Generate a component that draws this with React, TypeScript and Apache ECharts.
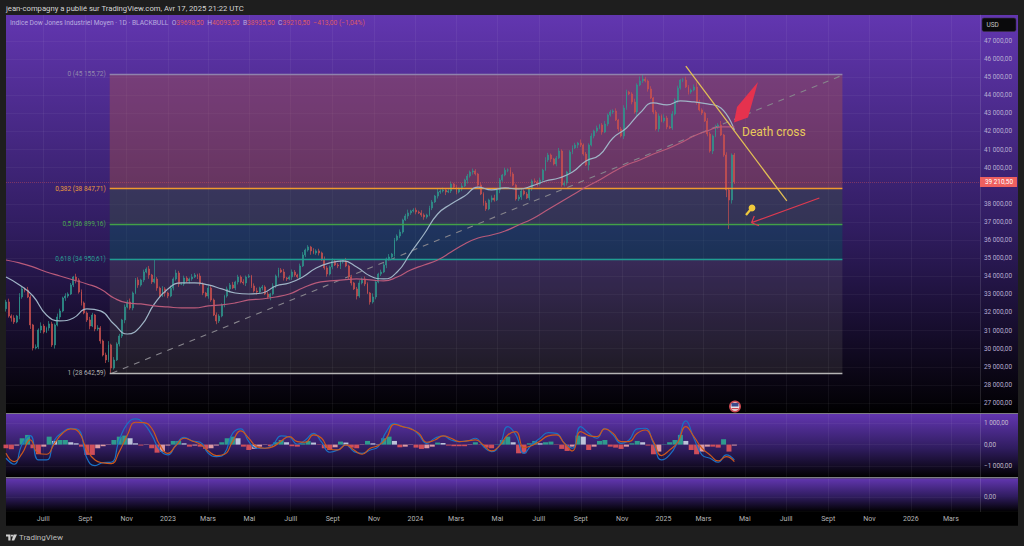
import React, { useEffect, useRef } from "react";
import * as echarts from "echarts";

const DAY = 86400000;
const startTime = Date.UTC(2022, 4, 7);
const endTime = Date.UTC(2026, 3, 13);
const candleStepDays = 3.98;
const firstOpen = 32200;

const closes = [
32580,31805,31695,31475,31805,32855,33300,33240,32855,31310,30040,30095,31030,31250,30920,31145,31365,30205,31310,31750,
32080,32800,32910,33020,33520,33960,33795,33130,32525,31970,31585,31250,31860,31090,31145,30425,29650,29375,30205,28930,
29375,30260,30700,31585,32300,32580,32250,33075,33795,33520,33795,34235,34400,34070,33685,33850,33350,32910,33300,33075,
32910,33350,33850,34180,33575,33575,33905,33740,33850,33960,34070,34015,
33575,33075,32910,33350,32690,31860,31530,31805,32415,32910,33300,33520,33350,33685,33960,33685,33630,33960,34015,33465,
33190,33130,33350,33410,33020,32855,33020,33465,34015,34350,34235,33905,33850,33960,34235,34070,33960,34570,35175,35450,
35620,35400,35290,35400,35290,34900,34460,34125,34515,34845,34625,34570,34790,34845,34570,33960,33630,33300,32910,33630,
33850,33575,33075,32580,32855,33685,34125,34235,34625,34955,35065,35230,
36005,36225,36445,37110,37330,37500,37610,37660,37550,37500,37385,37275,37385,37775,38105,38435,38655,38710,38770,38655,
38710,39100,38930,38655,38820,38990,39320,39540,39760,39820,39650,39045,38545,38050,37720,38215,38325,38215,38770,39320,
39595,39870,39870,39650,39045,38270,38380,38710,38545,38325,38820,39265,39210,39100,39320,39870,40425,40700,40480,40205,
40535,40920,39045,
39155,39760,40865,41090,41255,41365,41255,40755,40150,41255,41750,42030,42195,42360,41970,42415,42910,43075,43135,42635,
42140,41750,43300,44180,44070,43630,43075,44570,44790,44900,44790,44350,43850,43075,42140,42855,42580,42745,42250,42195,
42965,43740,44400,44845,44845,44460,44180,44290,44460,43630,43190,43020,42580,41860,40920,41750,42250,42360,41805,40700,
38770,38215,40700,39210,
];

const upperWicks = [
120,180,90,150,60,210,130,80,170,100,60,140,90,200,110,70,160,120,80,190,
130,70,150,90,110,60,180,100,140,80,90,170,120,60,150,100,80,130,210,70,
160,90,120,60,140,100,190,80,110,150,70,130,90,170,60,1100,110,80,150,100,
70,140,90,180,120,60,130,100,80,160,110,70,150,90,60,170,120,80,140,100,
90,60,130,110,170,70,120,90,150,80,100,60,140,180,70,110,90,130,60,150,
80,120,100,170,60,90,140,110,70,130,160,80,100,60,150,90,120,70,190,110,
80,140,60,100,130,90,170,70,120,60,110,150,80,140,90,60,200,120,70,130,
100,80,160,60,110,90,140,70,120,180,60,100,130,80,150,90,70,120,110,60,
170,90,130,80,100,140,60,120,90,160,70,110,80,130,100,60,150,90,120,70,
140,180,80,110,60,130,90,150,100,70,120,160,80,110,60,90,140,100,130,70,
150,120,80,60,110,170,90,130,70,100,140,120,60,190,80,110,90,150,70,130,
60,100,170,80,120,90,140,60,110,150,130,70,100,180,90,250,250,120,80,150,
60,110,140,90,200,120,70,160,90,130,60,110,180,100,80,140,260,120,90,70,
160,110,80,130,100,220,60,150,120,90,110,
];

const lowerWicks = [
150,90,200,110,70,180,100,130,60,220,140,80,120,170,90,60,150,110,200,80,
130,70,160,100,60,120,190,90,140,70,110,180,60,130,100,150,80,170,120,290,
90,60,140,110,180,70,100,130,60,160,90,120,70,210,110,80,150,100,60,190,
120,70,130,90,160,60,110,80,140,100,60,170,90,120,80,150,100,60,180,110,
70,130,90,200,60,120,140,80,100,170,60,110,90,150,70,130,60,100,180,80,
120,90,60,140,110,70,160,100,80,130,60,120,90,210,70,110,140,60,100,150,
80,130,60,120,170,90,70,110,140,60,190,100,80,120,60,150,90,130,70,110,
60,180,100,80,140,70,120,90,60,160,110,80,130,60,100,150,90,70,120,60,
140,100,80,170,60,110,90,130,70,120,60,200,90,140,80,100,60,150,110,70,
130,90,60,180,100,70,120,140,60,90,110,160,80,60,130,100,70,150,90,120,
60,110,170,80,130,60,100,90,140,70,120,60,180,110,90,60,300,80,130,100,
70,150,60,120,90,110,60,140,80,170,100,60,130,90,210,70,110,80,150,60,
120,90,160,70,100,130,60,110,80,190,90,120,60,140,100,70,150,80,110,60,
130,90,170,70,120,60,100,400,1600,200,110,
];

const ma50 = [33960,33520,32910,31860,31530,31695,32195,32085,31365,30810,31255,32470,33300,33630,33630,33520,33300,33075,33020,33075,33465,33630,33960,34460,34735,34845,34515,34015,33850,34235,35290,36335,37440,37995,38435,38930,38770,38880,38820,38990,39265,39430,39760,40370,40700,41640,42195,43020,43575,43465,43685,43630,43520,43300,42080];
const ma200 = [34900,34735,34515,34235,34015,33795,33575,33300,32800,32525,32470,32360,32305,32250,32250,32360,32415,32525,32690,32745,32855,33020,33350,33630,33740,33795,33850,33795,33740,33960,34350,34625,34900,35340,35785,36115,36280,36500,36835,37165,37610,38050,38490,38930,39320,39760,40150,40425,40755,41030,41365,41750,42030,42250,42250];

const macdFast = [-635,-915,15,420,-715,-715,215,575,760,680,-635,-975,-835,-820,215,975,1195,990,450,-250,-480,-15,340,170,110,-405,-560,-405,525,730,140,-170,-170,15,405,355,15,215,525,110,-355,-250,-15,-325,-405,-250,-95,605,990,835,760,450,60,295,405,215,140,170,295,-95,-325,-15,835,450,-405,15,295,560,525,60,-170,835,525,295,760,450,60,215,730,760,60,-715,-480,140,1100,295,-480,-635,-820,-480,-715];
const macdSlow = [-405,-790,-405,215,-405,-450,60,525,730,575,-250,-715,-850,-885,-325,450,1040,1025,760,-15,-405,-45,295,170,15,-295,-510,-450,140,635,295,-95,-170,-95,170,370,140,110,450,295,-215,-250,-15,-250,-450,-170,-45,295,945,835,730,525,110,215,405,295,140,170,215,-15,-295,-45,450,605,-140,-45,170,405,450,60,-295,605,420,370,730,525,140,140,525,680,140,-510,-250,110,835,370,-170,-480,-760,-560,-790];
const macdHist = [-170,-215,-45,295,450,-170,-450,-95,370,170,215,215,110,60,-95,-480,-480,-170,-75,-15,215,370,420,295,60,-45,-15,-170,-375,-325,-45,170,170,60,-95,-45,-95,-200,-170,-45,110,295,370,295,-95,-250,-200,-95,-15,-75,110,215,110,-75,-95,60,170,95,-15,-170,-250,-125,140,95,-140,-170,-15,170,60,15,295,370,170,-125,-95,-15,-140,-200,-170,-95,95,75,-45,-75,-75,-75,-15,110,-15,-140,-170,15,215,370,110,-405,-405,60,170,60,110,140,-15,-200,-295,-95,420,370,-250,-95,170,215,-95,-140,-200,-95,60,170,110,-45,-450,-325,15,110,215,450,170,-250,-450,-325,-95,-95,-140,250,-325,-45];

const priceTicks = [47000,46000,45000,44000,43000,42000,41000,40000,38000,37000,36000,35000,34000,33000,32000,31000,30000,29000,28000,27000];
const macdTicks = [1000, 0, -1000];
const monthLabels: [number, number, string][] = [
[2022,6,"Juill"],[2022,8,"Sept"],[2022,10,"Nov"],[2023,0,"2023"],[2023,2,"Mars"],[2023,4,"Mai"],[2023,6,"Juill"],[2023,8,"Sept"],[2023,10,"Nov"],
[2024,0,"2024"],[2024,2,"Mars"],[2024,4,"Mai"],[2024,6,"Juill"],[2024,8,"Sept"],[2024,10,"Nov"],[2025,0,"2025"],[2025,2,"Mars"],[2025,4,"Mai"],
[2025,6,"Juill"],[2025,8,"Sept"],[2025,10,"Nov"],[2026,0,"2026"],[2026,2,"Mars"],
];

const fibStart = Date.UTC(2022, 9, 7);
const fibEnd = Date.UTC(2025, 8, 22);
const fibPrices = [45155.72, 38847.71, 36899.16, 34950.61, 28642.59];
const fibLabels = ["0 (45 155,72)", "0,382 (38 847,71)", "0,5 (36 899,16)", "0,618 (34 950,61)", "1 (28 642,59)"];
const fibColors = ["#8f82ad", "#f09a2e", "#43a047", "#1f9e92", "#b5b5b5"];
const fibTextColors = ["#9288ad", "#e89a3c", "#4aa84f", "#2a9d93", "#b0b0b0"];
const fibFills = ["rgba(178,88,68,0.37)", "rgba(55,85,65,0.4)", "rgba(8,88,92,0.4)", "rgba(150,150,130,0.15)"];

const dashTrend = [[Date.UTC(2022, 9, 10), 28642], [Date.UTC(2025, 8, 25), 45155]];
const yellowTrend = [[Date.UTC(2025, 1, 3), 45607], [Date.UTC(2025, 6, 2), 38160]];
const redArrow = [
  [Date.UTC(2025, 7, 19), 38325], [Date.UTC(2025, 4, 11), 36960], [Date.UTC(2025, 4, 15), 37330],
  [Date.UTC(2025, 4, 11), 36960], [Date.UTC(2025, 4, 22), 36790],
];
const lastClose = 39210;

const FONT = "Roboto, 'Noto Sans', sans-serif";
const PANE_GRAD = () =>
  new echarts.graphic.LinearGradient(0, 0, 0, 1, [
    { offset: 0, color: "#6236b0" },
    { offset: 0.55, color: "#2f1c5e" },
    { offset: 0.97, color: "#040208" },
    { offset: 1, color: "#000000" },
  ]);

const monthTicks = monthLabels.map((m) => Date.UTC(m[0], m[1], 1));

const timeAxis = (gridIndex: number, showLabels: boolean) => ({
  type: "value",
  gridIndex,
  min: startTime,
  max: endTime,
  axisLine: { show: false },
  axisTick: { show: false, customValues: monthTicks },
  splitLine: { show: true, lineStyle: { color: "rgba(255,255,255,0.05)", width: 1 } },
  axisLabel: {
    show: showLabels,
    customValues: monthTicks,
    hideOverlap: false,
    margin: 4,
    fontSize: 7,
    fontFamily: FONT,
    color: "#b4b4b4",
    formatter: (v: number) => {
      const i = monthTicks.indexOf(v);
      return i >= 0 ? monthLabels[i][2] : "";
    },
  },
});

const priceAxis = (gridIndex: number, min: number, max: number, ticks: number[], color: string, fmt: (v: number) => string) => ({
  type: "value",
  position: "right",
  gridIndex,
  min,
  max,
  scale: true,
  axisLine: { show: true, lineStyle: { color: "rgba(255,255,255,0.12)" } },
  axisTick: { show: false, customValues: ticks },
  splitLine: { show: true, lineStyle: { color: "rgba(255,255,255,0.045)", width: 1 } },
  axisLabel: { customValues: ticks, margin: 4, fontSize: 6.4, fontFamily: FONT, color, formatter: fmt, hideOverlap: false },
});

const fmtPrice = (v: number) => {
  const a = Math.abs(v);
  const th = Math.floor(a / 1000);
  const body = th > 0 ? `${th} 000,00` : "0,00";
  return v < 0 ? `\u2212${body}` : body;
};

export default function App() {
  const ref = useRef<HTMLDivElement>(null);

  useEffect(() => {
    document.body.style.margin = "0";
    document.body.style.background = "#1e1e1e";
    const chart = echarts.init(ref.current!, undefined, { renderer: "svg", width: 1024, height: 546 });

    const dates = closes.map((_, i) => startTime + i * candleStepDays * DAY);
    const candles = closes.map((c, i) => {
      const o = i === 0 ? firstOpen : closes[i - 1];
      return [dates[i], o, c, Math.min(o, c) - (lowerWicks[i] ?? 100), Math.max(o, c) + (upperWicks[i] ?? 100)];
    });
    const fibAreas = fibFills.map((fill, i) => [
      { xAxis: fibStart, yAxis: fibPrices[i], itemStyle: { color: fill } },
      { xAxis: fibEnd, yAxis: fibPrices[i + 1] },
    ]);
    const fibLines = fibPrices.map((p, i) => [
      {
        xAxis: fibStart,
        yAxis: p,
        lineStyle: { color: fibColors[i], width: 1.3, type: "solid" },
        label: { show: true, position: "start", distance: 4, formatter: fibLabels[i], color: fibTextColors[i], fontSize: 6.5, fontFamily: FONT },
      },
      { xAxis: fibEnd, yAxis: p },
    ]);

    chart.setOption({
      animation: false,
      backgroundColor: "#1e1e1e",
      grid: [
        { left: 6, right: 44, top: 15, height: 397 },
        { left: 6, right: 44, top: 414, height: 63 },
        { left: 6, right: 44, top: 478.5, height: 33 },
      ],
      xAxis: [timeAxis(0, false), timeAxis(1, false), timeAxis(2, true)],
      yAxis: [
        priceAxis(0, 26500, 48435, priceTicks, "#b7add2", fmtPrice),
        priceAxis(1, -1507, 1423, macdTicks, "#c2bccc", fmtPrice),
        priceAxis(2, -0.88, 1.12, [0], "#b9b3c4", () => "0,00"),
      ],
      series: [
        {
          type: "line",
          name: "fib",
          xAxisIndex: 0,
          yAxisIndex: 0,
          data: [],
          z: 1,
          markArea: { silent: true, data: fibAreas },
          markLine: { silent: true, symbol: "none", data: fibLines },
        },
        {
          type: "line",
          name: "trend",
          xAxisIndex: 0,
          yAxisIndex: 0,
          data: dashTrend,
          showSymbol: false,
          z: 3,
          lineStyle: { color: "#86848c", width: 1.1, type: [6, 6] },
        },
        {
          type: "candlestick",
          name: "DJI",
          xAxisIndex: 0,
          yAxisIndex: 0,
          data: candles,
          barWidth: 1.4,
          z: 4,
          itemStyle: {
            color: "#2f958d",
            color0: "#c9504f",
            borderColor: "#2f958d",
            borderColor0: "#c9504f",
            borderWidth: 0.7,
          },
          markLine: {
            silent: true,
            symbol: "none",
            data: [
              {
                yAxis: lastClose,
                lineStyle: { color: "rgba(226,82,82,0.4)", type: "dotted", width: 1 },
                label: {
                  show: true,
                  position: "end",
                  distance: 0,
                  formatter: "39 210,50",
                  color: "#ffffff",
                  fontSize: 6.4,
                  fontFamily: FONT,
                  backgroundColor: "#ee6060",
                  padding: [2, 4, 2, 5],
                },
              },
            ],
          },
        },
        {
          type: "line",
          name: "MA50",
          xAxisIndex: 0,
          yAxisIndex: 0,
          data: ma50.map((v, k) => [dates[k * 5], v]),
          smooth: true,
          showSymbol: false,
          z: 5,
          lineStyle: { color: "#9fb4c6", width: 1.2 },
        },
        {
          type: "line",
          name: "MA200",
          xAxisIndex: 0,
          yAxisIndex: 0,
          data: ma200.map((v, k) => [dates[k * 5], v]),
          smooth: true,
          showSymbol: false,
          z: 5,
          lineStyle: { color: "#b95a7a", width: 1.2 },
        },
        {
          type: "line",
          name: "trendY",
          xAxisIndex: 0,
          yAxisIndex: 0,
          data: yellowTrend,
          showSymbol: false,
          z: 6,
          lineStyle: { color: "#e3c054", width: 1.3 },
        },
        {
          type: "line",
          name: "arrow",
          xAxisIndex: 0,
          yAxisIndex: 0,
          data: redArrow,
          showSymbol: false,
          z: 6,
          lineStyle: { color: "#dd3a50", width: 1.2 },
        },
        {
          type: "bar",
          name: "hist",
          xAxisIndex: 1,
          yAxisIndex: 1,
          data: macdHist.map((v, k) => [dates[k * 2], v]),
          barWidth: 5,
          z: 3,
          itemStyle: {
            color: (p: any) => {
              const v = macdHist[p.dataIndex];
              const prev = p.dataIndex > 0 ? macdHist[p.dataIndex - 1] : 0;
              if (v >= 0) return v >= prev ? "#2f9a8e" : "#bcc3da";
              return v <= prev ? "#cf4e5a" : "#dd9aa3";
            },
          },
        },
        {
          type: "line",
          name: "macd",
          xAxisIndex: 1,
          yAxisIndex: 1,
          data: macdFast.map((v, k) => [dates[k * 3], v]),
          smooth: true,
          showSymbol: false,
          z: 5,
          lineStyle: { color: "#1a70c4", width: 1.2 },
        },
        {
          type: "line",
          name: "signal",
          xAxisIndex: 1,
          yAxisIndex: 1,
          data: macdSlow.map((v, k) => [dates[k * 3], v]),
          smooth: true,
          showSymbol: false,
          z: 5,
          lineStyle: { color: "#cc581c", width: 1.2 },
        },
        { type: "line", name: "empty", xAxisIndex: 2, yAxisIndex: 2, data: [] },
      ],
      graphic: {
        elements: [
          { type: "rect", z: -10, shape: { x: 6, y: 15, width: 1012, height: 398 }, style: { fill: PANE_GRAD() } },
          { type: "rect", z: -10, shape: { x: 6, y: 413, width: 1012, height: 1.4 }, style: { fill: "#7d7d85" } },
          { type: "rect", z: -10, shape: { x: 6, y: 414, width: 1012, height: 63 }, style: { fill: PANE_GRAD() } },
          { type: "rect", z: -10, shape: { x: 6, y: 477, width: 1012, height: 1.4 }, style: { fill: "#7d7d85" } },
          { type: "rect", z: -10, shape: { x: 6, y: 478.4, width: 1012, height: 33.1 }, style: { fill: PANE_GRAD() } },
          { type: "rect", z: -10, shape: { x: 6, y: 511.5, width: 1012, height: 14.2 }, style: { fill: "#000000" } },

          { type: "text", z: 100, x: 6, y: 8, style: { text: "jean-compagny a publié sur TradingView.com, Avr 17, 2025 21:22 UTC", fill: "#d6d6d6", font: `7.7px ${FONT}`, verticalAlign: "middle" } },
          {
            type: "text",
            z: 100,
            x: 10,
            y: 23,
            style: {
              text: "{a|Indice Dow Jones Industriel Moyen · 1D · BLACKBULL}  {a|O}{r|39698,50}  {a|H}{r|40093,50}  {a|B}{r|38935,50}  {a|C}{r|39210,50}  {r|\u2212413,00 (\u22121,04%)}",
              font: `6.7px ${FONT}`,
              verticalAlign: "middle",
              rich: {
                a: { fill: "#b9abdf", font: `6.7px ${FONT}` },
                r: { fill: "#dc5a66", font: `6.7px ${FONT}` },
              },
            },
          },
          { type: "rect", z: 100, shape: { x: 982, y: 18, width: 34, height: 13.5, r: 2 }, style: { fill: "#0a0a0c", stroke: "#3a3147", lineWidth: 0.6 } },
          { type: "text", z: 101, x: 986.5, y: 25, style: { text: "USD", fill: "#c4c4c4", font: `6.5px ${FONT}`, verticalAlign: "middle" } },

          { type: "polygon", z: 100, shape: { points: [[758, 82], [737, 107], [734, 122.5], [748, 117.5]] }, style: { fill: "#e5324e" } },
          { type: "text", z: 100, x: 742, y: 131.5, style: { text: "Death cross", fill: "#e8c95a", font: `12px ${FONT}`, verticalAlign: "middle" } },

          { type: "line", z: 100, shape: { x1: 751, y1: 209, x2: 746, y2: 215 }, style: { stroke: "#f0c93c", lineWidth: 2.2 } },
          { type: "circle", z: 100, shape: { cx: 752, cy: 208, r: 3.4 }, style: { fill: "#f0c93c" } },

          { type: "circle", z: 100, shape: { cx: 735, cy: 406.5, r: 6 }, style: { fill: "#c9474f" } },
          { type: "circle", z: 101, shape: { cx: 735, cy: 406.5, r: 4.3 }, style: { fill: "#e9e4ea" } },
          { type: "rect", z: 102, shape: { x: 731.5, y: 403, width: 7, height: 3.5 }, style: { fill: "#3b4b8c" } },
          { type: "rect", z: 102, shape: { x: 731.5, y: 408, width: 7, height: 1.2 }, style: { fill: "#c9474f" } },

          { type: "polygon", z: 100, shape: { points: [[6, 534.5], [10.5, 534.5], [10.5, 540.5], [8.3, 540.5], [8.3, 536.6], [6, 536.6]] }, style: { fill: "#cfcfcf" } },
          { type: "polygon", z: 100, shape: { points: [[13.6, 534.5], [17, 534.5], [14.2, 540.5], [11.6, 540.5]] }, style: { fill: "#cfcfcf" } },
          { type: "circle", z: 100, shape: { cx: 12, cy: 535.6, r: 1.1 }, style: { fill: "#cfcfcf" } },
          { type: "text", z: 100, x: 19, y: 537.5, style: { text: "TradingView", fill: "#bdbdbd", font: `8px ${FONT}`, verticalAlign: "middle" } },
        ],
      },
    });
    return () => chart.dispose();
  }, []);

  return <div ref={ref} style={{ width: 1024, height: 546 }} />;
}
